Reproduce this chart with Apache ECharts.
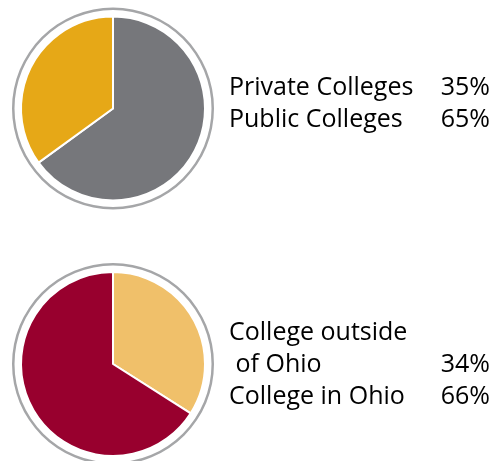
<!DOCTYPE html>
<html>
<head>
<meta charset="utf-8">
<script src="https://cdn.jsdelivr.net/npm/echarts@6/dist/echarts.min.js"></script>
<style>html,body{margin:0;padding:0;background:#fff}#c{width:494px;height:461px}</style>
</head>
<body>
<div id="c"></div>
<script>
var typeNames = ['Public Colleges', 'Private Colleges'];
var typeValues = [65, 35];
var typeColors = ['#76777b', '#e6a817'];
var typeLegendOrder = [1, 0];

var locNames = ['College outside\n of Ohio', 'College in Ohio'];
var locValues = [34, 66];
var locColors = ['#f0c06a', '#98002e'];
var locLegendOrder = [0, 1];

var FONT = '"Open Sans", "Noto Sans", sans-serif';
var chart = echarts.init(document.getElementById('c'), null, {renderer: 'canvas'});

function pieSeries(center, names, values, colors) {
  return {
    type: 'pie', center: center, radius: [0, 92], startAngle: 90, clockwise: true,
    silent: true, label: {show: false}, labelLine: {show: false},
    itemStyle: {borderColor: '#fff', borderWidth: 2},
    data: names.map(function (n, i) { return {name: n, value: values[i], itemStyle: {color: colors[i]}}; })
  };
}
function ringSeries(center) {
  return {
    type: 'pie', center: center, radius: [98.5, 101], silent: true,
    label: {show: false}, labelLine: {show: false},
    itemStyle: {color: '#a5a6a8'}, data: [{value: 1, name: 'ring'}]
  };
}
function legendTexts(names, values, order, firstY) {
  var els = [];
  var y = firstY;
  order.forEach(function (idx) {
    var lines = names[idx].split('\n');
    lines.forEach(function (ln, li) {
      els.push({type: 'text', left: 229, top: y, style: {text: ln, font: '25px ' + FONT, fill: '#000'}});
      if (li === lines.length - 1) {
        els.push({type: 'text', right: 4, top: y, style: {text: values[idx] + '%', font: '25px ' + FONT, fill: '#000'}});
      }
      y += 32;
    });
  });
  return els;
}

chart.setOption({
  animation: false,
  series: [
    ringSeries([113, 108.5]), pieSeries([113, 108.5], typeNames, typeValues, typeColors),
    ringSeries([113, 364]), pieSeries([113, 364], locNames, locValues, locColors)
  ],
  graphic: legendTexts(typeNames, typeValues, typeLegendOrder, 75)
    .concat(legendTexts(locNames, locValues, locLegendOrder, 320))
});
</script>
</body>
</html>
